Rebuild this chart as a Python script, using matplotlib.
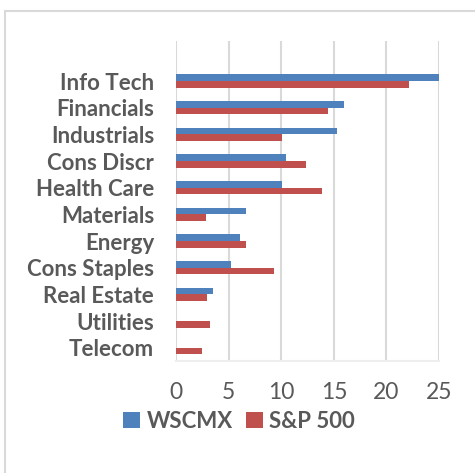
import matplotlib
matplotlib.use("Agg")
import matplotlib.pyplot as plt
from matplotlib.patches import Rectangle

categories = ["Info Tech", "Financials", "Industrials", "Cons Discr", "Health Care",
              "Materials", "Energy", "Cons Staples", "Real Estate", "Utilities", "Telecom"]
wscmx = [25.2, 16.0, 15.3, 10.4, 10.1, 6.6, 6.1, 5.2, 3.5, 0.0, 0.0]
sp500 = [22.1, 14.4, 10.1, 12.3, 13.9, 2.8, 6.6, 9.3, 2.9, 3.2, 2.4]
xticks = [0, 5, 10, 15, 20, 25]
series_names = ["WSCMX", "S&P 500"]

lab_font = "Lato"

blue = "#4F81BD"
red = "#C0504D"
gray_text = "#595959"
grid = "#D9D9D9"

fig = plt.figure(figsize=(4.75, 4.73), dpi=100)
fig.patches.append(Rectangle((5/475, -0.1), 1.2, 1 - 11/473 + 0.1, transform=fig.transFigure,
                             fill=False, edgecolor="#D9D9D9", linewidth=1.5))
ax = fig.add_axes([176.3/475, 1 - 361/473, (439 - 176.3)/475, (361 - 41)/473])

pos = list(range(len(categories)))
h = 0.25
ax.barh([p - h/2 for p in pos], wscmx, height=h, color=blue, label=series_names[0], zorder=3)
ax.barh([p + h/2 for p in pos], sp500, height=h, color=red, label=series_names[1], zorder=3)

ax.set_ylim(10.5, -1.5)
ax.set_xlim(0, 25)
ax.set_xticks(xticks)
ax.set_xticklabels([str(t) for t in xticks], fontsize=16.5, color=gray_text, family=lab_font)
ax.set_yticks(pos)
ax.set_yticklabels(categories, fontsize=16, fontweight="bold", color=gray_text, family=lab_font)
ax.tick_params(axis="x", length=0, pad=15)
ax.tick_params(axis="y", length=0, pad=16)
ax.xaxis.grid(True, color=grid, linewidth=1.5, zorder=0)
for s in ["top", "right", "left"]:
    ax.spines[s].set_visible(False)
ax.spines["bottom"].set_color("#EEEEEE")
ax.spines["bottom"].set_linewidth(1.5)

leg = fig.legend(loc="center", bbox_to_anchor=(239/475, 1 - 421/473), ncol=2, frameon=False,
                 prop={"family": lab_font, "weight": "bold", "size": 16},
                 handlelength=0.75, handleheight=0.75, handletextpad=0.3, columnspacing=0.6)
for t in leg.get_texts():
    t.set_color(gray_text)

fig.savefig("out.png", dpi=100)
